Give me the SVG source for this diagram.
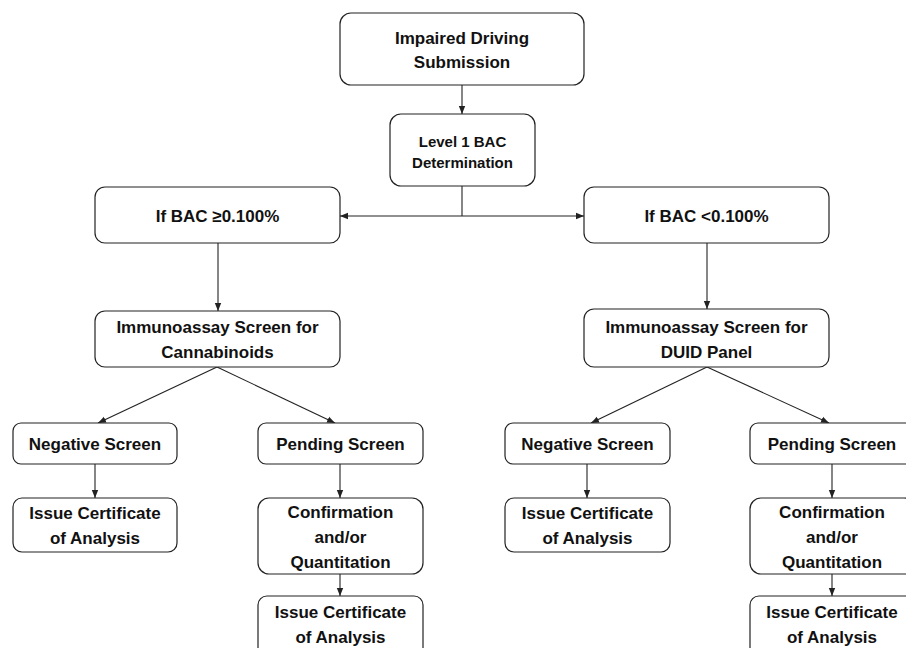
<svg xmlns="http://www.w3.org/2000/svg" width="906" height="648" viewBox="0 0 906 648">
<style>
.box{fill:#fff;stroke:#222;stroke-width:1.2}
.t{font-family:"Liberation Sans",Arial,sans-serif;font-weight:bold;font-size:17px;fill:#111;text-anchor:middle}
.s{font-size:15px}
.c{stroke:#222;stroke-width:1.1;fill:none}
.a{marker-end:url(#ah)}
</style>
<defs>
<marker id="ah" markerUnits="userSpaceOnUse" markerWidth="8" markerHeight="8" viewBox="0 0 8 8" refX="8" refY="4" orient="auto">
<path d="M0,0.8 L8,4 L0,7.2 Z" fill="#222"/>
</marker>
</defs>
<rect width="906" height="648" fill="#fff"/>
<g id="connectors">
<line class="c a" x1="462" y1="85" x2="462" y2="114"/>
<line class="c" x1="462" y1="186" x2="462" y2="216"/>
<line class="c a" x1="462" y1="216" x2="340" y2="216"/>
<line class="c a" x1="462" y1="216" x2="584" y2="216"/>
<line class="c a" x1="218" y1="243" x2="218" y2="311"/>
<line class="c a" x1="707" y1="243" x2="707" y2="309"/>
<line class="c a" x1="217" y1="367" x2="98" y2="423"/>
<line class="c a" x1="217" y1="367" x2="335" y2="423"/>
<line class="c a" x1="707" y1="367" x2="591" y2="423"/>
<line class="c a" x1="707" y1="367" x2="829" y2="423"/>
<line class="c a" x1="95" y1="464" x2="95" y2="498"/>
<line class="c a" x1="340" y1="464" x2="340" y2="498"/>
<line class="c a" x1="340" y1="574" x2="340" y2="596"/>
<line class="c a" x1="587" y1="464" x2="587" y2="498"/>
<line class="c a" x1="832" y1="464" x2="832" y2="498"/>
<line class="c a" x1="832" y1="574" x2="832" y2="596"/>
</g>
<g id="n-submission">
<rect class="box" x="340" y="13" width="244" height="72" rx="11"/>
<text class="t" x="462" y="44">Impaired Driving</text>
<text class="t" x="462" y="68">Submission</text>
</g>
<g id="n-level1">
<rect class="box" x="390" y="114" width="145" height="72" rx="11"/>
<text class="t s" x="462.5" y="147">Level 1 BAC</text>
<text class="t s" x="462.5" y="168">Determination</text>
</g>
<g id="n-bac-high">
<rect class="box" x="95" y="187" width="245" height="56" rx="10"/>
<text class="t" x="217.5" y="222">If BAC ≥0.100%</text>
</g>
<g id="n-bac-low">
<rect class="box" x="584" y="187" width="245" height="56" rx="10"/>
<text class="t" x="706.5" y="222">If BAC &lt;0.100%</text>
</g>
<g id="n-immuno-left">
<rect class="box" x="95" y="311" width="245" height="56" rx="10"/>
<text class="t" x="217.5" y="333">Immunoassay Screen for</text>
<text class="t" x="217.5" y="358">Cannabinoids</text>
</g>
<g id="n-immuno-right">
<rect class="box" x="584" y="309" width="245" height="58" rx="10"/>
<text class="t" x="706.5" y="333">Immunoassay Screen for</text>
<text class="t" x="706.5" y="358">DUID Panel</text>
</g>
<g id="n-neg-left">
<rect class="box" x="13" y="423" width="164" height="41" rx="8"/>
<text class="t" x="95" y="450">Negative Screen</text>
</g>
<g id="n-pend-left">
<rect class="box" x="258" y="423" width="165" height="41" rx="8"/>
<text class="t" x="340.5" y="450">Pending Screen</text>
</g>
<g id="n-issue-left1">
<rect class="box" x="13" y="498" width="164" height="54" rx="9"/>
<text class="t" x="95" y="519">Issue Certificate</text>
<text class="t" x="95" y="544">of Analysis</text>
</g>
<g id="n-confirm-left">
<rect class="box" x="258" y="498" width="165" height="76" rx="11"/>
<text class="t" x="340.5" y="518">Confirmation</text>
<text class="t" x="340.5" y="543">and/or</text>
<text class="t" x="340.5" y="568">Quantitation</text>
</g>
<g id="n-issue-left2">
<rect class="box" x="258" y="596" width="165" height="64" rx="9"/>
<text class="t" x="340.5" y="618">Issue Certificate</text>
<text class="t" x="340.5" y="643">of Analysis</text>
</g>
<g id="n-neg-right">
<rect class="box" x="505" y="423" width="165" height="41" rx="8"/>
<text class="t" x="587.5" y="450">Negative Screen</text>
</g>
<g id="n-issue-right1">
<rect class="box" x="505" y="498" width="165" height="54" rx="9"/>
<text class="t" x="587.5" y="519">Issue Certificate</text>
<text class="t" x="587.5" y="544">of Analysis</text>
</g>
<g id="n-pend-right">
<rect class="box" x="750" y="423" width="165" height="41" rx="8"/>
<text class="t" x="832" y="450">Pending Screen</text>
</g>
<g id="n-confirm-right">
<rect class="box" x="750" y="498" width="165" height="76" rx="11"/>
<text class="t" x="832" y="518">Confirmation</text>
<text class="t" x="832" y="543">and/or</text>
<text class="t" x="832" y="568">Quantitation</text>
</g>
<g id="n-issue-right2">
<rect class="box" x="750" y="596" width="165" height="64" rx="9"/>
<text class="t" x="832" y="618">Issue Certificate</text>
<text class="t" x="832" y="643">of Analysis</text>
</g>
</svg>
